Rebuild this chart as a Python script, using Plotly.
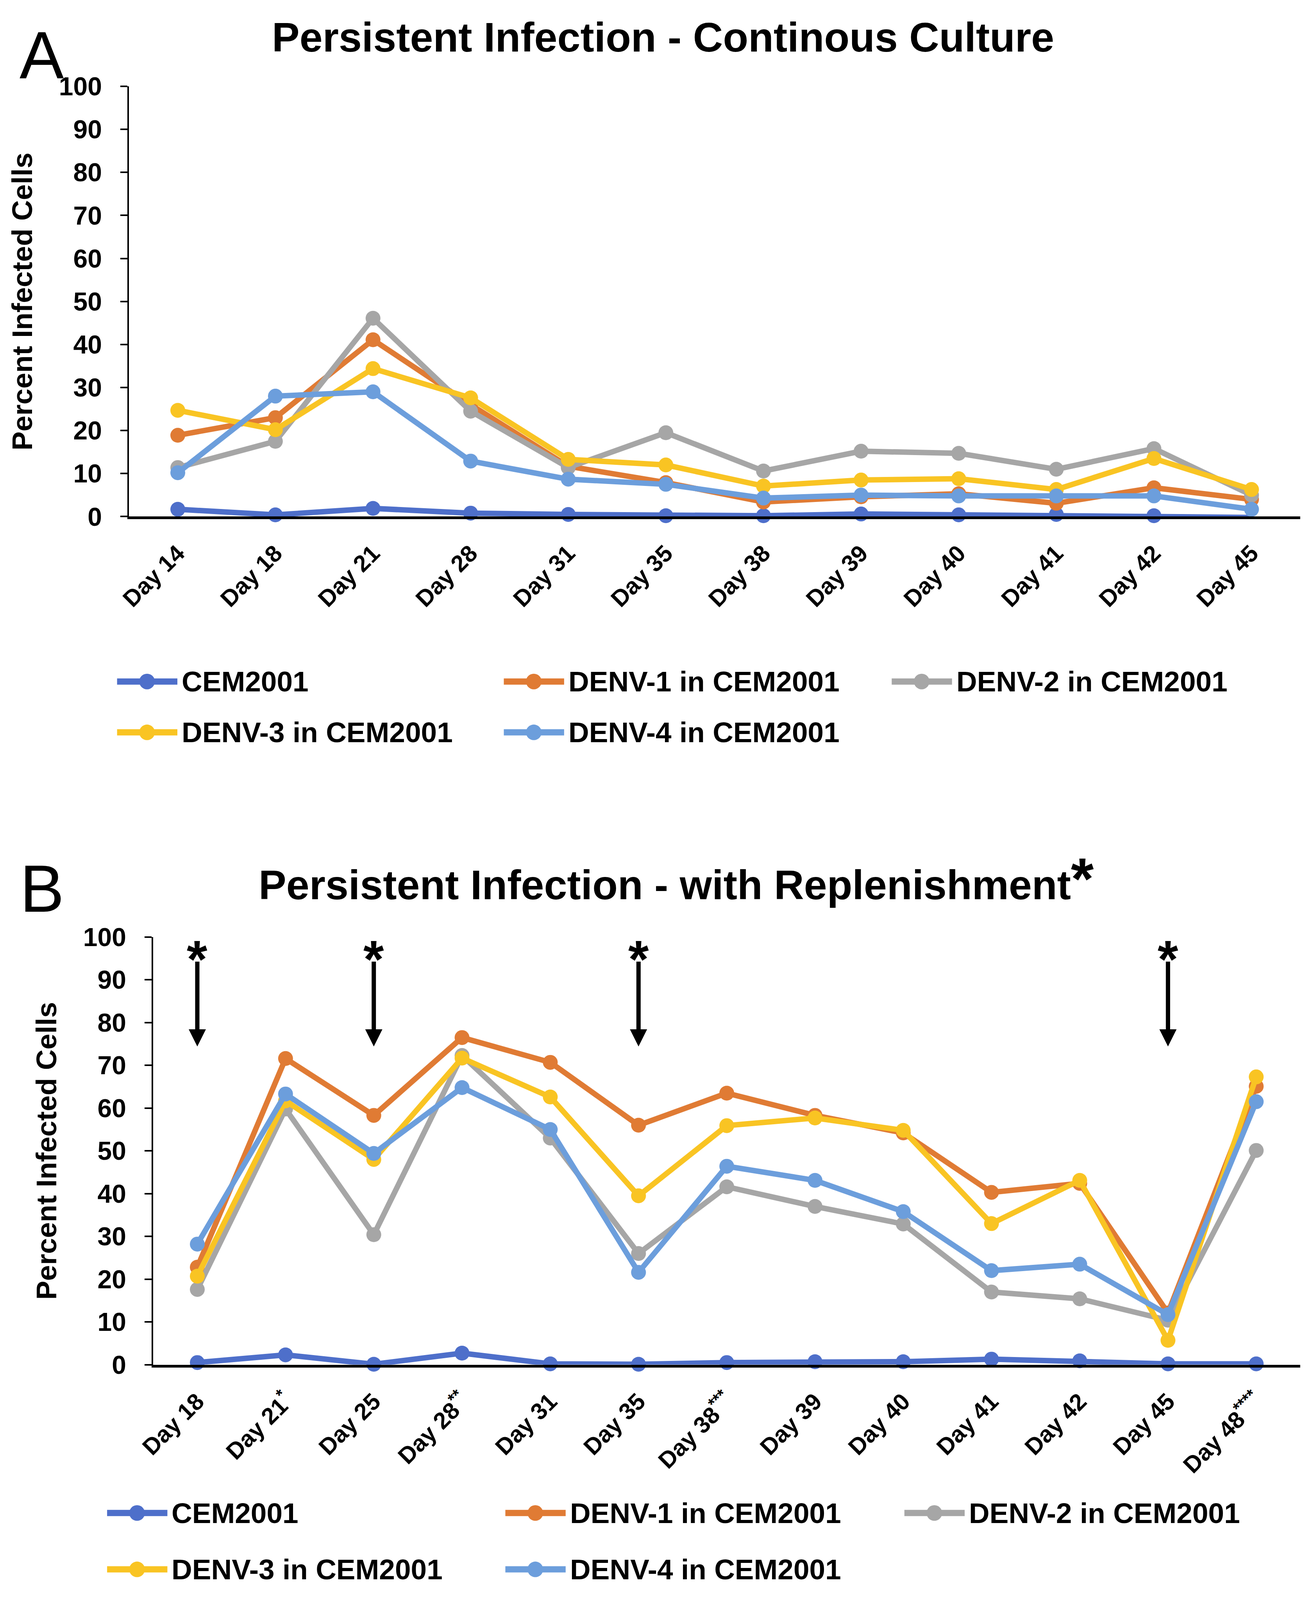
import plotly.graph_objects as go

# ---- data ----
days_a = ["Day 14", "Day 18", "Day 21", "Day 28", "Day 31", "Day 35",
          "Day 38", "Day 39", "Day 40", "Day 41", "Day 42", "Day 45"]
days_b = ["Day 18", "Day 21<sup>*</sup>", "Day 25", "Day 28<sup>**</sup>", "Day 31", "Day 35",
          "Day 38<sup>***</sup>", "Day 39", "Day 40", "Day 41", "Day 42", "Day 45",
          "Day 48<sup>****</sup>"]

series_names = ["CEM2001", "DENV-1 in CEM2001", "DENV-2 in CEM2001",
                "DENV-3 in CEM2001", "DENV-4 in CEM2001"]

cem_a = [1.7, 0.4, 1.9, 0.8, 0.5, 0.2, 0.2, 0.6, 0.4, 0.5, 0.2, -0.2]
denv1_a = [18.9, 23.0, 41.1, 26.0, 11.7, 7.9, 3.4, 4.6, 5.3, 3.1, 6.7, 4.0]
denv2_a = [11.4, 17.5, 46.1, 24.5, 11.4, 19.5, 10.6, 15.2, 14.7, 11.0, 15.8, 5.0]
denv3_a = [24.7, 20.2, 34.4, 27.6, 13.3, 12.0, 7.1, 8.5, 8.8, 6.3, 13.5, 6.3]
denv4_a = [10.2, 28.0, 29.0, 12.9, 8.7, 7.5, 4.3, 5.0, 4.8, 4.8, 4.8, 1.7]

cem_b = [0.5, 2.3, 0.1, 2.7, 0.2, 0.1, 0.5, 0.7, 0.7, 1.3, 0.9, 0.2, 0.2]
denv1_b = [22.8, 71.6, 58.3, 76.5, 70.7, 56.0, 63.5, 58.3, 54.2, 40.3, 42.4, 12.1, 65.1]
denv2_b = [17.6, 59.8, 30.4, 72.3, 53.0, 26.0, 41.6, 37.0, 32.9, 17.0, 15.4, 10.4, 50.1]
denv3_b = [20.7, 61.7, 48.0, 71.7, 62.6, 39.5, 55.9, 57.7, 54.8, 33.0, 43.1, 5.7, 67.3]
denv4_b = [28.2, 63.3, 49.4, 64.8, 55.0, 21.6, 46.4, 43.1, 35.8, 22.0, 23.5, 11.7, 61.5]

replenish_days = ["Day 18", "Day 25", "Day 35", "Day 45"]

colors = ["#4E6FCA", "#E07B34", "#A6A6A6", "#F9C423", "#6C9EDC"]

# reference frame used to place things (in paper fractions)
W, H = 3353, 4801
FONT = "Liberation Sans, Arial, Helvetica, sans-serif"


def px(x):
    return x / W


def py(y):
    return 1 - y / H


fig = go.Figure()

for name, vals, col in zip(series_names, [cem_a, denv1_a, denv2_a, denv3_a, denv4_a], colors):
    fig.add_trace(go.Scatter(x=days_a, y=vals, name=name, mode="lines+markers",
                             line=dict(color=col, width=14),
                             marker=dict(color=col, size=38),
                             cliponaxis=False, showlegend=False,
                             xaxis="x", yaxis="y"))

for name, vals, col in zip(series_names, [cem_b, denv1_b, denv2_b, denv3_b, denv4_b], colors):
    fig.add_trace(go.Scatter(x=days_b, y=vals, name=name, mode="lines+markers",
                             line=dict(color=col, width=14),
                             marker=dict(color=col, size=38),
                             cliponaxis=False, showlegend=False,
                             xaxis="x2", yaxis="y2"))

ytickfont = dict(family=FONT, size=66, color="black", weight="bold")
xtickfont = dict(family=FONT, size=60, color="black", weight="bold")
ytitlefont = dict(family=FONT, size=73, color="black", weight="bold")

xcommon = dict(type="category", showgrid=False, showline=True, linecolor="black",
               linewidth=7, ticks="", tickangle=-45, tickfont=xtickfont,
               ticklabelstandoff=28, zeroline=False)
ycommon = dict(range=[0, 100], dtick=10, showgrid=False, showline=True,
               linecolor="black", linewidth=4, ticks="outside", ticklen=18,
               tickwidth=4, tickcolor="black", tickfont=ytickfont,
               ticklabelstandoff=34, zeroline=False)

fig.update_layout(
    autosize=True,
    paper_bgcolor="white", plot_bgcolor="white",
    margin=dict(l=0, r=0, t=0, b=0),
    xaxis=dict(xcommon, domain=[px(286), px(3336)], anchor="y",
               range=[-0.5, len(days_a) - 0.5]),
    yaxis=dict(ycommon, domain=[py(1531), py(211)], anchor="x",
               title=dict(text="Percent Infected Cells", font=ytitlefont, standoff=45)),
    xaxis2=dict(xcommon, domain=[px(349), px(3336)], anchor="y2",
                range=[-0.5, len(days_b) - 0.5]),
    yaxis2=dict(ycommon, domain=[py(4133), py(2821)], anchor="x2",
                title=dict(text="Percent Infected Cells", font=ytitlefont, standoff=45)),
)

# panel titles and letters
fig.add_annotation(text="<b>Persistent Infection - Continous Culture</b>", x=px(1676), y=py(60),
                   xref="paper", yref="paper", showarrow=False, yanchor="middle",
                   font=dict(family=FONT, size=106, color="black"))
fig.add_annotation(text="<b>Persistent Infection - with Replenishment"
                        "<span style='font-size:150px'>*</span></b>",
                   x=px(1711), y=py(2642),
                   xref="paper", yref="paper", showarrow=False, yanchor="middle",
                   font=dict(family=FONT, size=106, color="black"))
fig.add_annotation(text="A", x=0, y=1, xref="paper", yref="paper",
                   xanchor="left", yanchor="top", borderpad=0,
                   showarrow=False, font=dict(family=FONT, size=170, color="black"))
fig.add_annotation(text="B", x=0, y=py(2672), xref="paper", yref="paper",
                   xanchor="left", yanchor="middle",
                   showarrow=False, font=dict(family=FONT, size=170, color="black"))

# replenishment arrows
day_lookup = {d.split("<")[0]: d for d in days_b}
for d in replenish_days:
    cat = day_lookup[d]
    fig.add_annotation(x=cat, y=74.4, ax=cat, ay=94.4, xref="x2", yref="y2",
                       axref="x2", ayref="y2", text="", showarrow=True,
                       arrowhead=2, arrowsize=0.8, arrowwidth=11, arrowcolor="black")
    fig.add_annotation(x=cat, y=97.0, xref="x2", yref="y2", text="<b>*</b>",
                       showarrow=False, yanchor="middle", yshift=-24,
                       font=dict(family=FONT, size=135, color="black"))

# legends drawn by hand (Excel-style long line symbols)
legend_rows = {"A": (2037, 2193, [255, 1262, 2272]),
               "B": (4588, 4761, [229, 1266, 2305])}
for key, (r1, r2, cols) in legend_rows.items():
    for i, (name, col) in enumerate(zip(series_names, colors)):
        yy = py(r1 if i < 3 else r2)
        x0 = cols[i % 3]
        fig.add_shape(type="line", xref="paper", yref="paper",
                      x0=px(x0), x1=px(x0 + 157), y0=yy, y1=yy,
                      line=dict(color=col, width=16))
        fig.add_shape(type="circle", xref="paper", yref="paper",
                      xsizemode="pixel", ysizemode="pixel",
                      xanchor=px(x0 + 78), yanchor=yy,
                      x0=-20, x1=20, y0=-20, y1=20,
                      fillcolor=col, line=dict(width=0))
        fig.add_annotation(text="<b>" + name + "</b>", x=px(x0 + 166), y=yy,
                           xref="paper", yref="paper", xanchor="left", yanchor="middle",
                           showarrow=False,
                           font=dict(family=FONT, size=73, color="black"))

# fill the browser window (minus the default 8px body margin on each side)
fig.write_html("out.html", default_width="100%", default_height="calc(100vh - 16px)")
